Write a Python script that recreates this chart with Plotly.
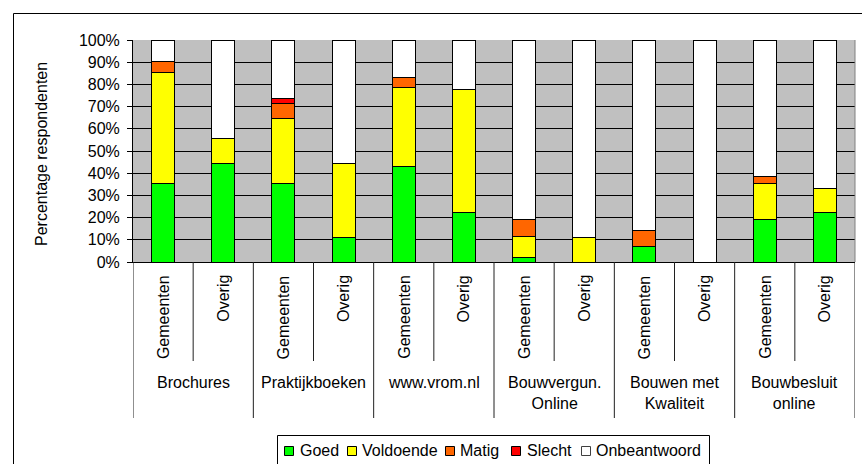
import plotly.graph_objects as go

# Survey data: share of respondents per rating, per information source
groups = ["Brochures", "Praktijkboeken", "www.vrom.nl",
          "Bouwvergun.<br>Online", "Bouwen met<br>Kwaliteit", "Bouwbesluit<br>online"]
respondents = ["Gemeenten", "Overig"]

goed = [35.4, 44.4, 35.4, 11.1, 43.0, 22.2, 2.2, 0.0, 6.9, 0.0, 19.2, 22.2]
voldoende = [49.8, 11.1, 29.1, 33.3, 35.4, 55.6, 9.2, 11.1, 0.0, 0.0, 16.0, 11.1]
matig = [5.1, 0.0, 6.7, 0.0, 4.7, 0.0, 7.6, 0.0, 7.5, 0.0, 3.2, 0.0]
slecht = [0.0, 0.0, 2.4, 0.0, 0.0, 0.0, 0.0, 0.0, 0.0, 0.0, 0.0, 0.0]
onbeantwoord = [9.7, 44.5, 26.4, 55.6, 16.9, 22.2, 81.0, 88.9, 85.6, 100.0, 61.6, 66.7]

series_names = ["Goed", "Voldoende", "Matig", "Slecht", "Onbeantwoord"]
series_values = [goed, voldoende, matig, slecht, onbeantwoord]
series_colors = ["#00FF00", "#FFFF00", "#FF6600", "#FF0000", "#FFFFFF"]

y_ticks = list(range(0, 101, 10))
y_tick_labels = [f"{v}%" for v in y_ticks]
y_title = "Percentage respondenten"

categories = [f"{g.replace('<br>', ' ')} | {r}" for g in groups for r in respondents]

# Canvas geometry (pixels)
W, H = 862, 464
L, R, T, B = 133, 855, 40, 262
PW, PH = R - L, B - T


def px2x(px):
    return (px - L) / PW


def py2y(py):
    return (B - py) / PH


FONT = "Liberation Sans, Arial, sans-serif"

fig = go.Figure()
for name, vals, col in zip(series_names, series_values, series_colors):
    fig.add_trace(go.Bar(
        x=categories, y=vals, name=name,
        marker=dict(color=col, line=dict(color="black", width=1)),
        showlegend=False,
    ))

annotations = []
shapes = []

# Respondent-type labels (rotated) under each bar
for i, cat in enumerate(categories):
    annotations.append(dict(
        x=cat, xref="x", y=0, yref="paper", yshift=-11,
        text=respondents[i % 2], textangle=-90,
        xanchor="center", yanchor="top", showarrow=False,
        font=dict(family=FONT, size=16, color="black"),
    ))

# Group labels and separators
for g, label in enumerate(groups):
    annotations.append(dict(
        x=2 * g + 0.5, xref="x", y=0, yref="paper", yshift=-(372 - B),
        text=label, xanchor="center", yanchor="top", showarrow=False,
        font=dict(family=FONT, size=16, color="black"),
    ))
    shapes.append(dict(type="line", xref="x", yref="paper",
                       x0=2 * g + 0.5, x1=2 * g + 0.5, y0=0, y1=py2y(361),
                       line=dict(color="#202020", width=1)))
for g in range(len(groups) + 1):
    shapes.append(dict(type="line", xref="x", yref="paper",
                       x0=2 * g - 0.5, x1=2 * g - 0.5, y0=0, y1=py2y(418),
                       line=dict(color="#202020", width=1)))

# Y-axis title
annotations.append(dict(
    x=0, xref="paper", xshift=-(L - 41), y=py2y(154), yref="paper",
    text=y_title, textangle=-90, xanchor="center", yanchor="middle",
    showarrow=False, font=dict(family=FONT, size=16, color="black"),
))

# Right edge of the plot area
shapes.append(dict(type="line", xref="paper", yref="paper",
                   x0=1, x1=1, y0=0, y1=1, line=dict(color="#808080", width=1)))

# Outer chart frame
shapes.append(dict(type="rect", xref="paper", yref="paper",
                   x0=px2x(13.5), x1=px2x(880), y0=py2y(490), y1=py2y(13.5),
                   line=dict(color="black", width=1), fillcolor="rgba(0,0,0,0)"))

# Legend box
shapes.append(dict(type="rect", xref="paper", yref="paper",
                   x0=px2x(277.5), x1=px2x(709.5), y0=py2y(480), y1=py2y(435.5),
                   line=dict(color="black", width=1), fillcolor="white"))
legend_square_x = [284, 347, 445, 511, 581]
legend_text_x = [298, 360, 458, 525, 594]
for name, col, sx, tx in zip(series_names, series_colors, legend_square_x, legend_text_x):
    shapes.append(dict(type="rect", xref="paper", yref="paper",
                       x0=px2x(sx + 0.5), x1=px2x(sx + 9.5),
                       y0=py2y(455.5), y1=py2y(446.5),
                       line=dict(color="black" if name != "Onbeantwoord" else "#404040", width=1),
                       fillcolor=col))
    annotations.append(dict(
        x=px2x(tx), xref="paper", y=py2y(450), yref="paper",
        text=name, xanchor="left", yanchor="middle", showarrow=False,
        font=dict(family=FONT, size=16, color="black"),
    ))

fig.update_layout(
    width=W, height=H,
    margin=dict(l=L, r=W - R, t=T, b=H - B, pad=0),
    barmode="stack", bargap=0.62,
    plot_bgcolor="#C0C0C0", paper_bgcolor="white",
    font=dict(family=FONT, size=16, color="black"),
    annotations=annotations, shapes=shapes,
    showlegend=False,
)
fig.update_xaxes(
    type="category", showticklabels=False, ticks="",
    showline=True, linecolor="black", linewidth=1, showgrid=False,
    range=[-0.5, len(categories) - 0.5], fixedrange=True,
)
fig.update_yaxes(
    range=[0, 100], tickmode="array", tickvals=y_ticks, ticktext=y_tick_labels,
    showgrid=True, gridcolor="black", gridwidth=1,
    ticks="outside", ticklen=5, tickcolor="black",
    showline=True, linecolor="black", linewidth=1, zeroline=False,
    tickfont=dict(family=FONT, size=16, color="black"),
    ticklabelstandoff=4,
)

fig.write_html("out.html")
